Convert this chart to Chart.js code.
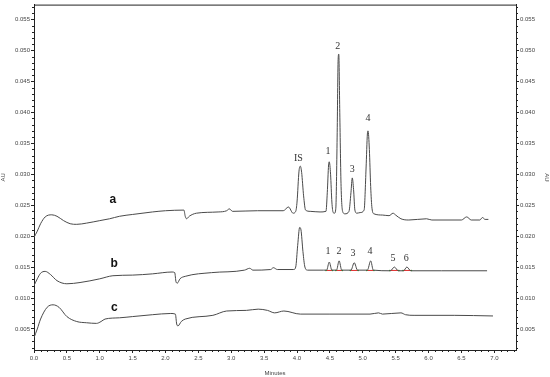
<!DOCTYPE html>
<html>
<head>
<meta charset="utf-8">
<script src="https://cdn.jsdelivr.net/npm/chart.js@4.4.0/dist/chart.umd.min.js"></script>
<style>
html,body{margin:0;padding:0;background:#fff}
</style>
</head>
<body>
<canvas id="chart" width="550" height="377"></canvas>
<script>
// trace a (standard mix, shifted up)
const timeA=[0,0.05,0.1,0.17,0.27,0.35,0.45,0.55,0.65,0.8,1.0,1.15,1.3,1.5,1.8,2.0,2.28,2.3,2.32,2.36,2.47,2.8,2.93,2.97,3.02,3.4,3.79,3.87,3.94,3.98,
4.0,4.03,4.05,4.07,4.1,4.13,4.2,4.35,4.44,4.46,4.48,4.49,4.51,4.53,4.55,4.57,4.59,4.61,4.625,4.635,4.65,4.67,4.7,4.73,4.79,4.82,4.84,4.86,4.88,4.91,4.96,
5.02,5.05,5.07,5.08,5.1,5.12,5.14,5.17,5.3,5.4,5.46,5.5,5.58,5.7,5.97,6.05,6.5,6.58,6.65,6.78,6.82,6.86,6.91];
const auA=[0.0198,0.0208,0.0220,0.0231,0.02344,0.0232,0.0225,0.0220,0.0219,0.0221,0.0225,0.0228,0.0232,0.0235,0.0239,0.0241,0.0242,0.0232,0.0228,0.0232,0.0237,0.0239,0.0241,0.0244,0.0240,0.0241,0.0241,0.0247,0.0237,0.0240,
0.0255,0.0305,0.0313,0.0303,0.0265,0.0242,0.0240,0.0239,0.0240,0.0270,0.0315,0.0320,0.0300,0.0255,0.0238,0.0237,0.0245,0.0360,0.0485,0.0494,0.0400,0.0280,0.0238,0.0236,0.0240,0.0270,0.0294,0.0275,0.0242,0.0237,0.0238,
0.0242,0.0310,0.0365,0.0370,0.0340,0.0280,0.0245,0.0236,0.0234,0.0233,0.0237,0.0234,0.0228,0.0226,0.0228,0.0226,0.0226,0.0231,0.0226,0.0226,0.0230,0.0227,0.0227];

// trace b (sample)
const timeB=[0,0.05,0.1,0.17,0.25,0.35,0.5,0.7,1.0,1.2,1.5,1.8,2.1,2.14,2.16,2.18,2.22,2.3,2.7,3.2,3.28,3.33,3.6,3.64,3.7,3.95,
3.98,4.01,4.04,4.06,4.09,4.12,4.16,4.4,4.45,4.49,4.53,4.6,4.64,4.68,4.82,4.87,4.92,5.07,5.12,5.16,5.42,5.48,5.54,5.62,5.67,5.73,6.2,6.89];
const auB=[0.0120,0.0131,0.0140,0.0143,0.0138,0.0128,0.0123,0.0125,0.0131,0.0136,0.0137,0.0139,0.0142,0.0141,0.0126,0.0124,0.0131,0.0135,0.0141,0.0145,0.0148,0.0145,0.0146,0.0149,0.0146,0.0146,
0.0150,0.0185,0.0214,0.0210,0.0175,0.0150,0.0145,0.0145,0.0145,0.0158,0.0145,0.0145,0.0160,0.0145,0.0145,0.0157,0.0145,0.0145,0.0160,0.0145,0.0144,0.0150,0.0144,0.0144,0.0150,0.0144,0.0144,0.0144];

// trace c (blank)
const timeC=[0,0.05,0.1,0.2,0.29,0.38,0.5,0.65,0.8,0.95,1.02,1.08,1.3,1.5,1.8,2.08,2.15,2.17,2.19,2.24,2.3,2.72,2.93,3.23,3.41,3.55,3.66,3.8,4.05,4.5,5.11,5.24,5.3,5.58,5.65,5.78,6.39,6.98];
const auC=[0.0036,0.0050,0.0066,0.0085,0.0089,0.0085,0.0070,0.0062,0.0060,0.0059,0.0062,0.0066,0.0068,0.0070,0.0073,0.0075,0.0074,0.0058,0.0055,0.0062,0.0066,0.0072,0.0079,0.0080,0.0082,0.0080,0.0076,0.0079,0.0074,0.0074,0.0074,0.0076,0.0074,0.0076,0.0073,0.0072,0.0072,0.0071];

// integration baselines under the small peaks of b
const cutStart=[4.44,4.59,4.81,5.06,5.41,5.61];
const cutEnd=[4.54,4.69,4.93,5.17,5.55,5.74];
const cutLevel=0.01445;

// tick labels
const xTicks=[0,0.5,1,1.5,2,2.5,3,3.5,4,4.5,5,5.5,6,6.5,7];
const yTicks=[0.005,0.010,0.015,0.020,0.025,0.030,0.035,0.040,0.045,0.050,0.055];

// text notes: [label, minutes, AU, kind]
const notes=[
["a",1.20,0.0259,"trace"],["b",1.22,0.0155,"trace"],["c",1.22,0.0084,"trace"],
["IS",4.02,0.0326,"peak"],["1",4.47,0.0337,"peak"],["2",4.62,0.0507,"peak"],["3",4.84,0.0308,"peak"],["4",5.08,0.0390,"peak"],
["1",4.47,0.0175,"peak"],["2",4.64,0.0175,"peak"],["3",4.85,0.0172,"peak"],["4",5.11,0.0175,"peak"],["5",5.46,0.0164,"peak"],["6",5.66,0.0164,"peak"]
];

const pts=(t,v)=>t.map((x,i)=>({x:x,y:v[i]}));
const cutPts=[];
cutStart.forEach((s,i)=>{
cutPts.push({x:s,y:cutLevel},{x:cutEnd[i],y:cutLevel},{x:cutEnd[i]+0.001,y:null});
});

const trace={borderColor:"#4a4a4a",borderWidth:1,pointRadius:0,cubicInterpolationMode:"monotone",fill:false};

// minor ticks, top frame and text notes
const extras={
id:"extras",
afterDraw(c){
const ctx=c.ctx,x=c.scales.x,y=c.scales.y,a=c.chartArea;
ctx.save();
ctx.strokeStyle="#222";
ctx.lineWidth=1;
ctx.beginPath();
ctx.moveTo(a.left,a.top+0.5);ctx.lineTo(a.right,a.top+0.5);
for(let i=1;i<=73;i++){
if(i%5===0)continue;
const px=Math.round(x.getPixelForValue(i/10))+0.5;
ctx.moveTo(px,a.bottom);ctx.lineTo(px,a.bottom+2);
}
for(let i=2;i<=57;i++){
if(i%5===0)continue;
const py=Math.round(y.getPixelForValue(i/1000))+0.5;
ctx.moveTo(a.left-2,py);ctx.lineTo(a.left,py);
ctx.moveTo(a.right,py);ctx.lineTo(a.right+2,py);
}
ctx.stroke();
ctx.textAlign="center";
ctx.textBaseline="middle";
notes.forEach(n=>{
if(n[3]==="trace"){
ctx.font="bold 12px 'Liberation Sans', Arial, sans-serif";
ctx.fillStyle="#111";
}else{
ctx.font="10px 'Liberation Serif', 'Times New Roman', serif";
ctx.fillStyle="#333";
}
ctx.fillText(n[0],x.getPixelForValue(n[1]),y.getPixelForValue(n[2]));
});
ctx.restore();
}
};

const yAxis=(pos)=>({
type:"linear",position:pos,min:0.0016,max:0.0574,
afterBuildTicks:s=>{s.ticks=yTicks.map(v=>({value:v}));},
afterFit:s=>{s.width=34;},
ticks:{callback:v=>v.toFixed(3),font:{size:6,family:"'Liberation Sans', Arial"},color:"#444",padding:1},
grid:{drawOnChartArea:false,tickLength:3,color:"#222"},
border:{color:"#222"},
title:{display:true,text:"AU",font:{size:6,family:"'Liberation Sans', Arial"},color:"#444",padding:{top:0,bottom:0}}
});

const ctx=document.getElementById("chart").getContext("2d");
const chart=new Chart(ctx,{
type:"line",
data:{datasets:[
Object.assign({label:"a",data:pts(timeA,auA)},trace),
Object.assign({label:"b",data:pts(timeB,auB)},trace),
Object.assign({label:"c",data:pts(timeC,auC)},trace),
{label:"cut",data:cutPts,borderColor:"#e03030",borderWidth:1,pointRadius:0.8,pointBackgroundColor:"#2a2",pointBorderWidth:0,spanGaps:false}
]},
options:{
responsive:false,
animation:false,
layout:{padding:{top:2,left:0,right:0,bottom:0}},
plugins:{legend:{display:false},tooltip:{enabled:false}},
scales:{
x:{
type:"linear",position:"bottom",min:0,max:7.33,
afterBuildTicks:s=>{s.ticks=xTicks.map(v=>({value:v}));},
afterFit:s=>{s.height=27;},
ticks:{callback:v=>v.toFixed(1),font:{size:6,family:"'Liberation Sans', Arial"},color:"#444",maxRotation:0,autoSkip:false,padding:2},
grid:{drawOnChartArea:false,tickLength:3,color:"#222"},
border:{color:"#222"},
title:{display:true,text:"Minutes",font:{size:6,family:"'Liberation Sans', Arial"},color:"#444",padding:{top:3,bottom:0}}
},
y:yAxis("left"),
y2:yAxis("right")
}
},
plugins:[extras]
});
</script>
</body>
</html>
